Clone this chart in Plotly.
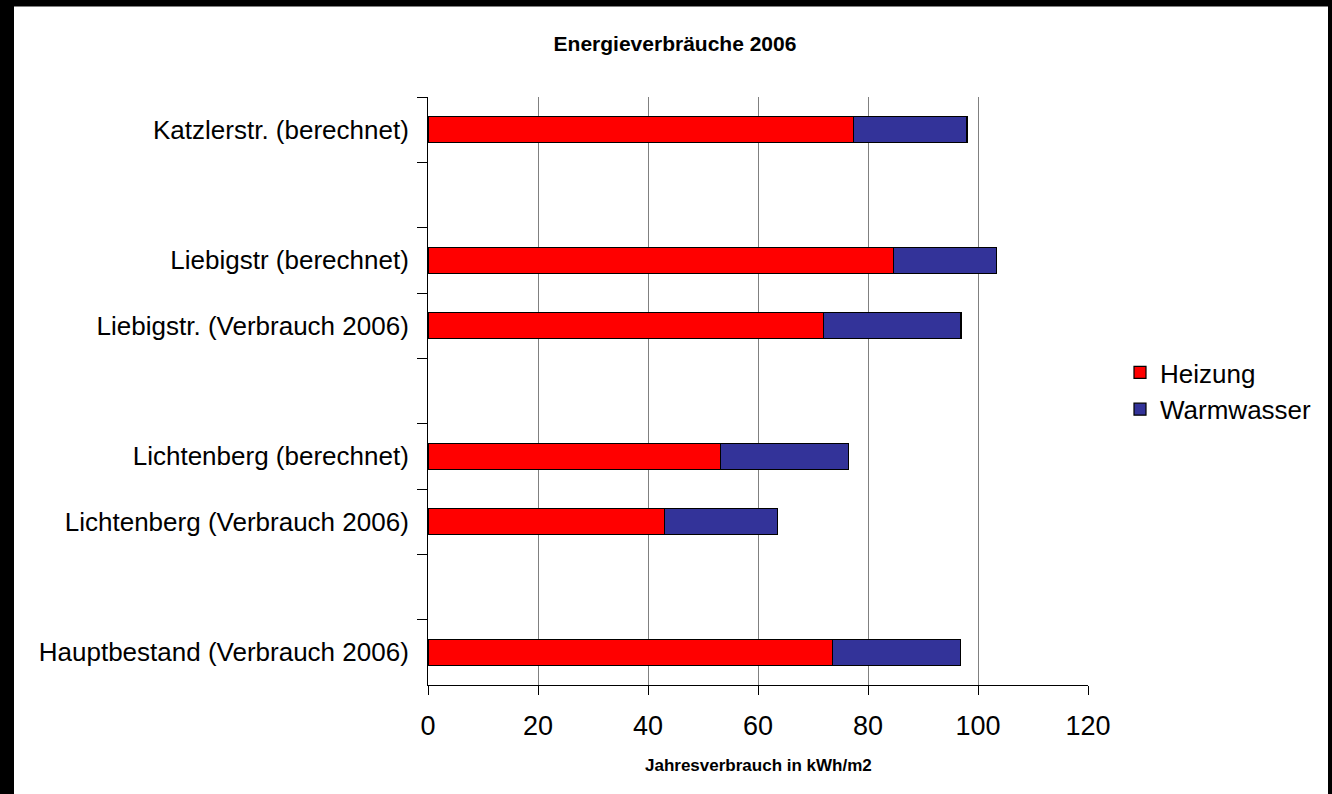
import plotly.graph_objects as go

categories = [
    "Katzlerstr. (berechnet)",
    " ",
    "Liebigstr (berechnet)",
    "Liebigstr. (Verbrauch 2006)",
    "  ",
    "Lichtenberg (berechnet)",
    "Lichtenberg (Verbrauch 2006)",
    "   ",
    "Hauptbestand (Verbrauch 2006)",
]
heizung = [77.4, None, 84.7, 71.9, None, 53.2, 43.0, None, 73.5]
warmwasser = [20.6, None, 18.7, 25.0, None, 23.3, 20.6, None, 23.3]
x_ticks = [0, 20, 40, 60, 80, 100, 120]

FONT = "Liberation Sans, Arial, sans-serif"

fig = go.Figure()
fig.add_trace(go.Bar(
    y=categories, x=heizung, name="Heizung", orientation="h",
    marker=dict(color="#FF0000", line=dict(color="#000000", width=1.2)),
    width=0.4,
))
fig.add_trace(go.Bar(
    y=categories, x=warmwasser, name="Warmwasser", orientation="h",
    marker=dict(color="#333399", line=dict(color="#000000", width=1.2)),
    width=0.4,
))

L, R, T, B = 428, 1088, 97, 685
W, H = 1332, 794
pw, ph = R - L, B - T

def px(xp):
    return (xp - L) / pw

def py(yp):
    return (B - yp) / ph

fig.update_layout(
    width=W, height=H,
    margin=dict(l=L, r=W - R, t=T, b=H - B, pad=0),
    barmode="stack",
    paper_bgcolor="#000000",
    plot_bgcolor="#FFFFFF",
    font=dict(family=FONT, color="#000000"),
    title=dict(
        text="<b>Energieverbräuche 2006</b>",
        font=dict(family=FONT, size=21, color="#000000"),
        x=675 / W, xanchor="center", xref="container",
        y=1 - 44 / H, yanchor="middle", yref="container",
    ),
    showlegend=True,
    legend=dict(
        x=px(1120), xanchor="left", y=py(391), yanchor="middle",
        font=dict(family=FONT, size=26, color="#000000"),
        bgcolor="rgba(0,0,0,0)", traceorder="normal",
    ),
    shapes=[
        dict(type="rect", xref="paper", yref="paper", layer="below",
             x0=px(14), x1=px(1328), y0=py(H + 10), y1=py(6),
             fillcolor="#FFFFFF", line=dict(width=0)),
        dict(type="line", xref="paper", yref="paper", layer="below",
             x0=px(14), x1=px(1328), y0=py(6.5), y1=py(6.5),
             line=dict(color="#808080", width=1)),
    ],
    annotations=[
        dict(text="<b>Jahresverbrauch in kWh/m2</b>", xref="paper", yref="paper",
             x=0.5, xanchor="center", y=py(765), yanchor="middle",
             showarrow=False, font=dict(family=FONT, size=17, color="#000000")),
    ],
)

fig.update_xaxes(
    range=[0, 120], tickvals=x_ticks, ticktext=[str(v) for v in x_ticks],
    showgrid=True, gridcolor="#808080", gridwidth=1,
    zeroline=False,
    showline=True, linecolor="#000000", linewidth=1,
    ticks="outside", ticklen=9, tickcolor="#000000", tickwidth=1,
    tickfont=dict(family=FONT, size=27, color="#000000"),
    ticklabelstandoff=8,
    automargin=False,
)
fig.update_yaxes(
    type="category", categoryorder="array", categoryarray=categories,
    autorange="reversed",
    showgrid=False, zeroline=False,
    showline=True, linecolor="#000000", linewidth=1,
    ticks="outside", ticklen=10, tickcolor="#000000", tickwidth=1,
    tickson="boundaries",
    tickfont=dict(family=FONT, size=26, color="#000000"),
    ticklabelstandoff=13,
    automargin=False,
)

fig.write_html(
    "out.html",
    config={"displayModeBar": False},
    post_script="document.body.style.margin='0';document.body.style.background='#000';",
)
